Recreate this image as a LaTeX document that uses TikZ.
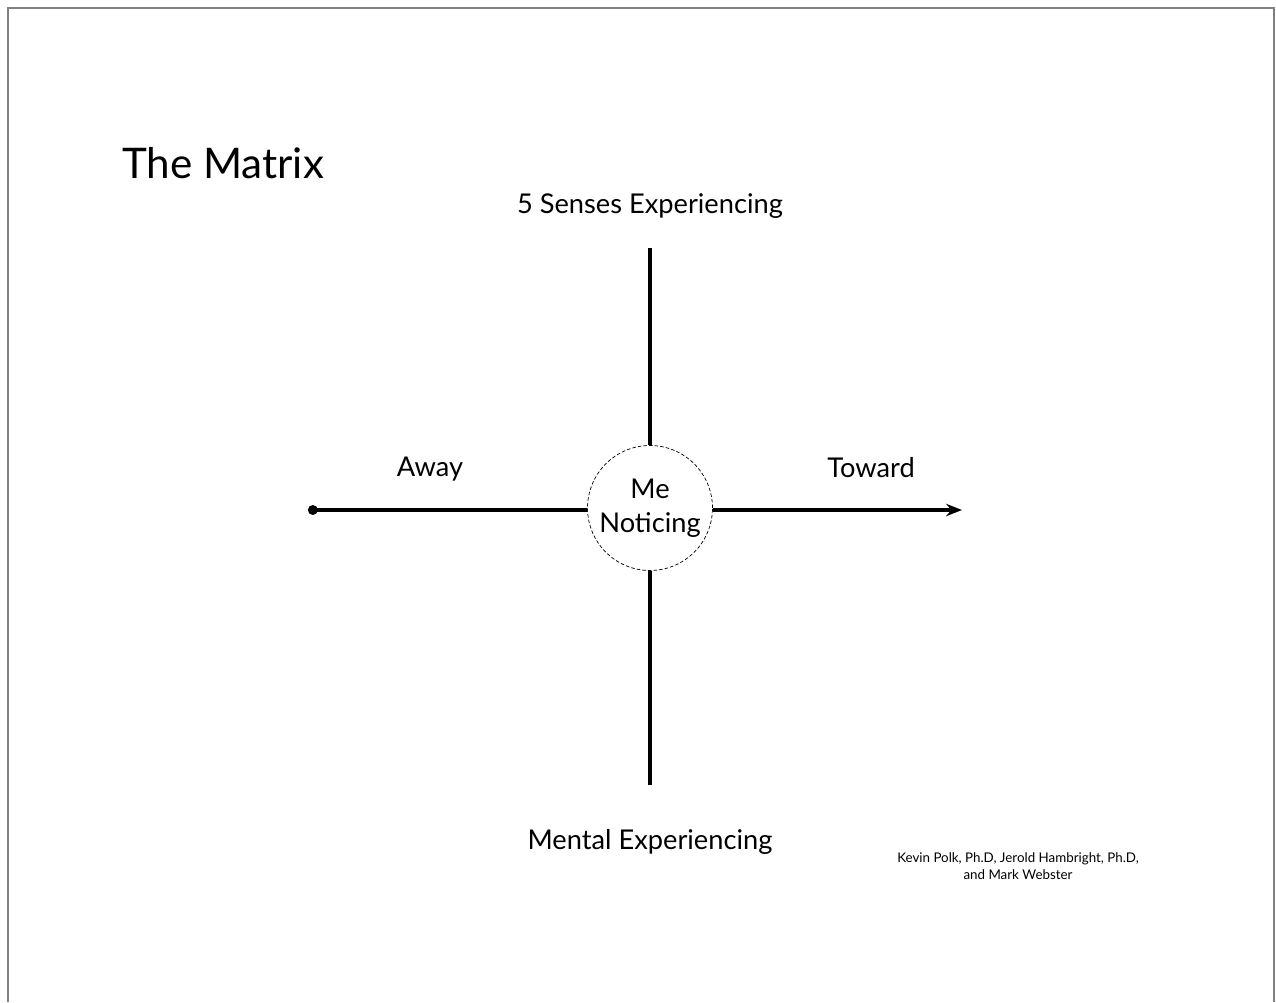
\documentclass[tikz,border=0pt]{standalone}
\usepackage{fontspec}
\setmainfont{Lato}
\usetikzlibrary{arrows.meta, positioning}

\begin{document}
\begin{tikzpicture}[
    x=0.02cm, y=-0.02cm,
    label/.style={
      font=\fontsize{15.5}{18}\selectfont,
      inner sep=1pt
    },
    noticing/.style={
      circle,
      draw,
      thin,
      dash pattern=on 2pt off 1.2pt,
      minimum size=2.5cm,
      align=center,
      font=\fontsize{15.5}{19.5}\selectfont,
      inner sep=0pt
    },
    axis/.style={
      line width=2pt
    },
    frame/.style={
      draw=gray,
      line width=1.2pt
    }
  ]
  \useasboundingbox (0,0) rectangle (1276,1002);

  % frame
  \draw[frame] (8,1002) -- (8,8) -- (1274,8) -- (1274,1002);

  % title
  \node[font=\fontsize{24}{28}\selectfont] (title) at (223,163) {The Matrix};

  % centre
  \node[noticing] (me) at (650,508) {Me\\Noticing};

  % end points
  \coordinate (top) at (650,248);
  \coordinate (bottom) at (650,785);
  \coordinate (left) at (308,510);
  \coordinate (right) at (962,510);

  % axes
  \draw[axis] (top) -- (me);
  \draw[axis] (me) -- (bottom);
  \draw[axis, {Circle[length=5.5pt]}-] (left) -- (me.west |- left);
  \draw[axis, -{Stealth[length=9pt, width=7pt]}] (me.east |- right) -- (right);

  % labels
  \node[label] (senses) at (650,206) {5 Senses Experiencing};
  \node[label] (mental) at (650,842) {Mental Experiencing};
  \node[label] (away) at (430,469) {Away};
  \node[label] (toward) at (871,468) {Toward};

  % credit
  \node[font=\fontsize{7.6}{10}\selectfont, align=center] (credit) at (1018,866)
    {Kevin Polk, Ph.D, Jerold Hambright, Ph.D,\\and Mark Webster};
\end{tikzpicture}
\end{document}
